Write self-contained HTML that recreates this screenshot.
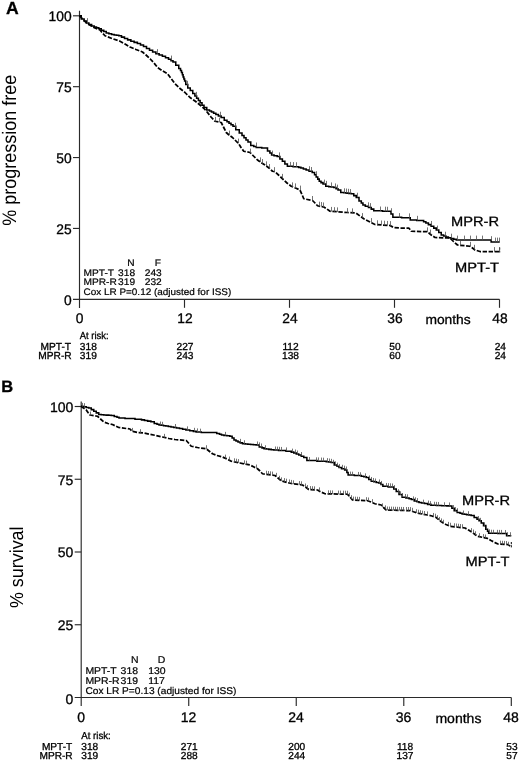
<!DOCTYPE html>
<html lang="en"><head><meta charset="utf-8"><title>Figure</title>
<style>html,body{margin:0;padding:0;background:#fff}body{width:520px;height:761px;overflow:hidden}svg{display:block}</style>
</head><body>
<svg width="520" height="761" viewBox="0 0 520 761" text-rendering="geometricPrecision">
<rect width="520" height="761" fill="#fff"/>
<g stroke="#2a2a2a" stroke-width="1.15" fill="none" shape-rendering="auto">
<path d="M79.50 10.80V307.90"/>
<path d="M73.00 299.30H499.50"/>
<path d="M73.00 228.43H79.50"/>
<path d="M73.00 157.55H79.50"/>
<path d="M73.00 86.68H79.50"/>
<path d="M73.00 15.80H79.50"/>
<path d="M184.50 299.30V307.80"/>
<path d="M289.50 299.30V307.80"/>
<path d="M394.50 299.30V307.80"/>
<path d="M499.50 299.30V307.80"/>
</g>
<g font-family="Liberation Sans, Arial, sans-serif" stroke="#000" stroke-width="0.3" font-size="13.8" fill="#000" text-anchor="end">
<text x="71.60" y="305.40">0</text>
<text x="71.60" y="233.73">25</text>
<text x="71.60" y="162.85">50</text>
<text x="71.60" y="91.98">75</text>
<text x="71.60" y="21.10">100</text>
</g>
<g font-family="Liberation Sans, Arial, sans-serif" stroke="#000" stroke-width="0.3" font-size="13.8" fill="#000" text-anchor="middle">
<text x="79.50" y="322.60">0</text>
<text x="185.00" y="322.60">12</text>
<text x="290.00" y="322.60">24</text>
<text x="395.00" y="322.60">36</text>
<text x="500.00" y="322.60">48</text>
</g>
<g stroke="#2a2a2a" stroke-width="1.15" fill="none" shape-rendering="auto">
<path d="M81.20 401.50V706.10"/>
<path d="M74.70 697.50H511.30"/>
<path d="M74.70 624.75H81.20"/>
<path d="M74.70 552.00H81.20"/>
<path d="M74.70 479.25H81.20"/>
<path d="M74.70 406.50H81.20"/>
<path d="M188.73 697.50V706.00"/>
<path d="M296.25 697.50V706.00"/>
<path d="M403.78 697.50V706.00"/>
<path d="M511.30 697.50V706.00"/>
</g>
<g font-family="Liberation Sans, Arial, sans-serif" stroke="#000" stroke-width="0.3" font-size="14" fill="#000" text-anchor="end">
<text x="73.30" y="703.60">0</text>
<text x="73.30" y="630.05">25</text>
<text x="73.30" y="557.30">50</text>
<text x="73.30" y="484.55">75</text>
<text x="73.30" y="411.80">100</text>
</g>
<g font-family="Liberation Sans, Arial, sans-serif" stroke="#000" stroke-width="0.3" font-size="14" fill="#000" text-anchor="middle">
<text x="81.20" y="721.70">0</text>
<text x="188.43" y="721.70">12</text>
<text x="295.95" y="721.70">24</text>
<text x="403.48" y="721.70">36</text>
<text x="511.00" y="721.70">48</text>
</g>
<path d="M79.50 15.75H81.25V19.00H83.00H84.12V21.00H85.25H86.38V23.00H87.50H88.88V24.50H90.25H91.62V26.00H93.00H94.17V26.92H95.33H96.50V27.83H97.67H98.83V28.75H100.00H101.25V30.17H102.50H103.75V31.58H105.00H106.25V33.00H107.50H108.88V33.75H110.25H111.62V34.50H113.00H114.17V34.92H115.33H116.50V35.33H117.67H118.83V35.75H120.00H121.50V37.12H123.00H124.50V38.50H126.00H127.62V39.88H129.25H130.88V41.25H132.50H134.12V42.38H135.75H137.38V43.50H139.00H140.50V45.00H142.00H143.50V46.50H145.00H146.50V48.40H148.00H149.50V50.30H151.00H152.62V52.05H154.25H155.88V53.80H157.50H159.12V55.05H160.75H162.38V56.30H164.00H165.50V57.80H167.00H168.50V59.30H170.00H171.00V60.65H172.00H173.00V62.00H174.00H175.75V65.30H177.50H178.75V68.50H180.00H180.50V70.50H181.00H181.50V72.50H182.00H182.38V74.75H182.75H183.12V77.00H183.50H183.88V79.00H184.25H184.62V81.00H185.00H185.75V84.50H186.50H187.75V88.00H189.00H190.25V90.50H191.50H192.75V93.50H194.00H194.88V95.90H195.75H196.62V98.30H197.50H198.38V100.55H199.25H200.12V102.80H201.00H202.00V105.15H203.00H204.00V107.50H205.00H206.75V110.00H208.50H209.50V111.00H210.50H211.50V112.00H212.50H213.62V113.25H214.75H215.88V114.50H217.00H218.38V116.00H219.75H221.12V117.50H222.50H224.25V120.20H226.00H227.00V121.75H228.00H229.00V123.30H230.00H231.00V124.75H232.00H233.00V126.20H234.00H235.75V129.70H237.50H239.25V133.00H241.00H242.00V135.40H243.00H244.00V137.80H245.00H246.00V139.90H247.00H248.00V142.00H249.00H250.75V145.50H252.50H253.75V146.50H255.00H256.25V147.50H257.50H261.75V148.00H266.00H267.50V151.00H269.00H269.88V153.00H270.75H271.62V155.00H272.50H274.06V155.75H275.62H277.19V156.50H278.75H279.88V159.00H281.00H282.38V161.25H283.75H284.88V164.00H286.00H287.38V166.25H288.75H293.12V166.75H297.50H298.62V167.38H299.75H300.88V168.00H302.00H303.38V169.00H304.75H306.12V170.00H307.50H309.06V171.25H310.62H312.19V172.50H313.75H314.56V174.75H315.38H316.19V177.00H317.00H317.75V179.12H318.50H319.25V181.25H320.00H321.00V182.62H322.00H323.00V184.00H324.00H325.75V186.25H327.50H328.75V186.67H330.00H331.25V187.08H332.50H333.75V187.50H335.00H336.00V188.75H337.00H338.00V190.00H339.00H340.75V192.50H342.50H343.75V192.81H345.00H346.25V193.12H347.50H348.75V193.44H350.00H351.25V193.75H352.50H353.75V195.62H355.00H356.25V197.50H357.50H359.00V201.00H360.50H361.31V203.00H362.12H362.94V205.00H363.75H365.31V206.25H366.88H368.44V207.50H370.00H371.25V209.12H372.50H373.75V210.75H375.00H382.50V211.25H390.00H391.00V214.00H392.00H392.88V217.30H393.75H401.62V217.80H409.50H410.25V220.00H411.00H416.75V220.40H422.50H423.62V221.70H424.75H425.88V223.00H427.00H428.38V224.62H429.75H431.12V226.25H432.50H433.75V228.12H435.00H436.25V230.00H437.50H438.75V232.50H440.00H441.25V235.00H442.50H443.62V236.00H444.75H445.88V237.00H447.00H448.38V237.75H449.75H451.12V238.50H452.50H453.75V239.25H455.00H456.25V240.00H457.50H490.80H491.15V242.00H491.50H499.70" fill="none" stroke="#000" stroke-width="1.55" stroke-linejoin="miter"/>
<path d="M79.50 15.75L83.00 19.50L87.50 23.75L93.00 27.00L100.00 30.00L102.50 33.00L105.00 35.75L112.00 38.50L120.00 41.25L125.00 44.00L130.00 47.00L136.00 49.50L142.50 52.00L146.00 55.00L150.00 58.75L154.00 63.00L157.50 67.50L162.00 70.50L167.50 73.75L171.00 78.50L175.00 83.75L180.00 88.50L185.00 92.50L190.00 97.50L195.00 101.00L200.00 105.00L204.00 108.50L207.50 112.50L211.00 117.00L215.00 121.25L221.25 122.50L223.50 127.00L226.25 132.50L229.00 135.00L232.50 137.50L235.50 140.50L238.75 143.75L241.00 147.50L243.75 151.25L250.00 152.50L253.50 156.00L257.50 160.00L261.00 162.50L265.00 165.00L269.00 168.00L272.50 171.25L275.00 171.75L279.00 175.50L282.50 178.75L287.00 183.00L291.25 186.25L295.50 188.00L300.00 190.00L302.00 194.50L303.75 198.75L312.50 200.50L315.00 203.00L317.50 205.75L323.75 207.00L327.00 209.00L330.00 211.25L347.50 212.50L356.00 213.00L360.00 216.00L363.75 218.75L370.00 222.00L375.00 224.50L390.00 225.50L393.75 227.50L400.00 228.00L408.75 228.00L410.00 229.50L411.25 231.25L427.50 231.75L429.50 233.50L431.25 235.00L435.00 237.50L450.00 238.00L453.50 241.50L457.50 245.00L470.00 246.25L472.50 248.00L475.00 250.00L480.00 251.50L499.70 251.50" fill="none" stroke="#000" stroke-width="1.75" stroke-dasharray="4.4 1.6" stroke-linejoin="round"/>
<path d="M81.00 406.25H83.00V406.80H85.00H86.25V407.40H87.50H88.75V408.00H90.00H91.25V409.62H92.50H93.75V411.25H95.00H96.25V412.88H97.50H98.75V414.50H100.00H101.25V414.70H102.50H103.75V414.90H105.00H106.25V415.10H107.50H108.75V415.30H110.00H111.25V415.50H112.50H114.25V416.50H116.00H117.00V417.25H118.00H119.00V418.00H120.00H125.00V418.50H130.00H135.00V419.25H140.00H141.50V419.88H143.00H144.50V420.50H146.00H147.62V421.12H149.25H150.88V421.75H152.50H154.25V423.50H156.00H157.00V424.25H158.00H159.00V425.00H160.00H161.17V425.33H162.33H163.50V425.67H164.67H165.83V426.00H167.00H168.33V426.50H169.67H171.00V427.00H172.33H173.67V427.50H175.00H176.50V428.00H178.00H179.50V428.50H181.00H182.62V429.25H184.25H185.88V430.00H187.50H189.75V430.75H192.00H193.38V431.38H194.75H196.12V432.00H197.50H201.25V432.50H205.00H215.00H216.75V433.50H218.50H219.50V434.25H220.50H221.50V435.00H222.50H223.96V435.42H225.42H226.88V435.83H228.33H229.79V436.25H231.25H232.12V438.00H233.00H234.00V440.00H235.00H236.00V441.00H237.00H238.00V442.00H239.00H240.19V442.88H241.38H242.56V443.75H243.75H245.12V444.00H246.50H247.88V444.25H249.25H250.62V444.50H252.00H253.38V444.75H254.75H256.12V445.00H257.50H259.25V447.00H261.00H262.00V447.88H263.00H264.00V448.75H265.00H266.25V449.06H267.50H268.75V449.38H270.00H271.25V449.69H272.50H273.75V450.00H275.00H278.50V450.50H282.00H286.00V451.25H290.00H291.25V452.12H292.50H293.75V453.00H295.00H296.25V454.00H297.50H298.75V455.00H300.00H301.25V456.25H302.50H303.75V457.50H305.00H306.88V460.50H308.75H316.88V461.25H325.00H326.25V461.67H327.50H328.75V462.08H330.00H331.25V462.50H332.50H334.25V465.00H336.00H337.00V466.25H338.00H339.00V467.50H340.00H341.56V468.75H343.12H344.69V470.00H346.25H346.88V472.50H347.50H348.12V475.00H348.75H354.38V475.50H360.00H361.25V476.17H362.50H363.75V476.83H365.00H366.25V477.50H367.50H368.75V479.50H370.00H371.25V481.25H372.50H373.75V481.83H375.00H376.25V482.42H377.50H378.75V483.00H380.00H381.00V484.50H382.00H382.88V486.25H383.75H388.12V487.00H392.50H393.75V489.00H395.00H396.25V491.50H397.50H399.00V494.50H400.50H402.12V497.25H403.75H405.88V498.00H408.00H409.12V498.75H410.25H411.38V499.50H412.50H414.25V501.00H416.00H417.00V501.75H418.00H419.00V502.50H420.00H421.50V503.00H423.00H424.50V503.50H426.00H427.62V504.35H429.25H430.88V505.20H432.50H433.81V505.31H435.11H436.42V505.43H437.73H439.04V505.54H440.34H441.65V505.66H442.96H444.26V505.77H445.57H446.88V505.89H448.19H449.49V506.00H450.80H451.90V508.30H453.00H454.20V510.60H455.40H457.20V512.50H459.00H460.02V513.20H461.05H462.08V513.90H463.10H464.25V514.27H465.40H466.55V514.65H467.70H468.85V515.02H470.00H471.15V515.40H472.30H474.15V517.50H476.00H477.00V519.15H478.00H479.00V520.80H480.00H481.25V523.00H482.50H483.55V525.60H484.60H485.80V529.30H487.00H487.55V531.25H488.10H488.65V533.20H489.20H497.70V533.50H506.20H506.60V535.70H507.00H511.30" fill="none" stroke="#000" stroke-width="1.55" stroke-linejoin="miter"/>
<path d="M81.00 406.25L83.50 408.00L86.25 410.00L88.00 412.50L90.00 415.00L97.50 416.25L100.50 419.00L103.75 422.00L108.00 423.50L112.50 424.50L115.50 426.00L118.75 427.50L130.00 429.00L132.00 431.30L137.50 432.50L144.00 433.00L150.00 434.25L156.00 435.50L162.50 437.00L169.00 438.50L175.00 439.50L186.25 440.50L188.50 443.00L191.25 446.25L197.50 447.50L206.25 448.75L209.00 451.00L212.50 453.75L217.00 455.50L222.50 457.00L227.00 459.00L231.25 461.25L240.00 463.00L250.00 465.00L254.00 467.00L257.50 468.75L260.00 471.00L262.50 473.75L275.00 475.50L278.00 478.00L281.25 480.75L287.00 482.50L292.50 483.75L302.50 485.00L305.50 487.00L308.75 489.50L317.50 490.00L321.00 492.00L325.00 493.75L347.50 494.25L350.00 497.00L352.50 500.00L367.50 500.75L371.00 502.00L375.00 503.75L381.25 505.00L383.50 507.50L386.25 510.00L405.00 510.50L410.00 510.50L413.50 511.75L417.50 513.00L422.00 514.00L427.50 515.00L432.00 516.00L436.25 517.50L439.00 520.00L442.50 522.50L446.00 524.50L450.00 526.25L465.00 528.00L468.50 530.00L472.50 532.50L475.00 534.50L477.50 536.25L487.50 538.40L491.00 540.50L495.00 542.60L498.00 544.00L508.00 544.60L511.30 547.00" fill="none" stroke="#000" stroke-width="1.75" stroke-dasharray="4.4 1.6" stroke-linejoin="round"/>
<path d="M499.7 247.5V252.5M511.3 542V548" stroke="#000" stroke-width="1" stroke-dasharray="2.2 1"/>
<path d="M87.50 22.86v-4.70M157.50 53.83v-4.70M171.50 60.27v-4.70M187.50 85.50v-4.70M196.50 96.54v-4.70M220.50 116.44v-4.70M235.50 127.50v-4.70M256.50 147.20v-4.70M272.50 155.30v-4.70M279.50 157.08v-4.70M290.50 166.62v-4.70M293.50 166.79v-4.70M296.50 166.96v-4.70M309.50 170.90v-4.70M311.50 171.70v-4.70M316.50 175.92v-4.70M324.50 184.30v-4.70M326.50 185.59v-4.70M331.50 187.13v-4.70M335.50 188.11v-4.70M337.50 189.36v-4.70M344.50 192.99v-4.70M346.50 193.24v-4.70M348.50 193.49v-4.70M350.50 193.74v-4.70M357.50 197.43v-4.70M368.50 207.00v-4.70M370.50 207.80v-4.70M380.50 211.22v-4.70M385.50 211.38v-4.70M387.50 211.47v-4.70M391.50 212.93v-4.70M399.50 217.78v-4.70M409.50 218.08v-4.70M417.50 220.53v-4.70M431.50 225.66v-4.70M437.50 230.30v-4.70M445.50 236.41v-4.70M451.50 238.39v-4.70M457.50 240.30v-4.70M464.50 240.30v-4.70M470.50 240.30v-4.70M476.50 240.30v-4.70M482.50 240.30v-4.70M491.50 240.87v-4.70M495.50 242.30v-4.70M497.50 242.30v-4.70M499.50 242.30v-4.70" fill="none" stroke="#505050" stroke-width="0.8"/>
<path d="M215.50 121.55v-4.70M219.50 122.35v-4.70M229.50 135.30v-4.70M238.50 143.30v-4.70M250.50 153.30v-4.70M260.50 162.09v-4.70M262.50 163.74v-4.70M266.50 166.05v-4.70M269.50 168.76v-4.70M274.50 171.85v-4.70M282.50 178.59v-4.70M292.50 187.06v-4.70M295.50 188.09v-4.70M300.50 190.30v-4.70M312.50 200.70v-4.70M319.50 206.35v-4.70M321.50 206.75v-4.70M323.50 207.15v-4.70M331.50 211.62v-4.70M334.50 211.87v-4.70M337.50 212.09v-4.70M347.50 212.80v-4.70M352.50 213.09v-4.70M362.50 217.77v-4.70M371.50 222.80v-4.70M377.50 224.97v-4.70M381.50 225.20v-4.70M384.50 225.40v-4.70M387.50 225.63v-4.70M390.50 225.80v-4.70M427.50 232.05v-4.70M430.50 234.23v-4.70M460.50 245.55v-4.70M470.50 246.55v-4.70M474.50 249.50v-4.70M494.50 251.80v-4.70M499.50 251.80v-4.70" fill="none" stroke="#505050" stroke-width="0.8"/>
<path d="M82.50 406.69v-3.80M84.50 406.96v-3.80M160.50 425.30v-3.80M162.50 425.59v-3.80M175.50 427.80v-3.80M187.50 430.18v-3.80M194.50 431.62v-3.80M197.50 432.19v-3.80M200.50 432.47v-3.80M225.50 435.66v-3.80M240.50 442.67v-3.80M244.50 444.07v-3.80M257.50 445.25v-3.80M259.50 446.16v-3.80M261.50 447.30v-3.80M265.50 449.05v-3.80M275.50 450.30v-3.80M277.50 450.44v-3.80M279.50 450.59v-3.80M281.50 450.73v-3.80M286.50 451.18v-3.80M292.50 452.43v-3.80M295.50 453.30v-3.80M297.50 454.30v-3.80M301.50 455.80v-3.80M309.50 460.83v-3.80M316.50 461.13v-3.80M318.50 461.23v-3.80M321.50 461.37v-3.80M323.50 461.46v-3.80M327.50 461.93v-3.80M329.50 462.28v-3.80M331.50 462.63v-3.80M333.50 463.59v-3.80M335.50 465.09v-3.80M337.50 466.43v-3.80M339.50 467.74v-3.80M342.50 468.60v-3.80M344.50 469.44v-3.80M346.50 470.28v-3.80M350.50 475.37v-3.80M352.50 475.47v-3.80M358.50 475.75v-3.80M360.50 476.04v-3.80M365.50 477.16v-3.80M369.50 479.24v-3.80M371.50 480.78v-3.80M373.50 481.78v-3.80M375.50 482.27v-3.80M379.50 483.25v-3.80M381.50 484.73v-3.80M386.50 486.75v-3.80M388.50 486.93v-3.80M390.50 487.11v-3.80M392.50 487.29v-3.80M394.50 488.90v-3.80M398.50 493.00v-3.80M400.50 495.05v-3.80M402.50 496.83v-3.80M405.50 497.77v-3.80M407.50 498.14v-3.80M413.50 500.19v-3.80M415.50 501.09v-3.80M417.50 501.90v-3.80M423.50 503.45v-3.80M428.50 504.35v-3.80M430.50 504.90v-3.80M434.50 505.58v-3.80M436.50 505.67v-3.80M438.50 505.77v-3.80M444.50 506.04v-3.80M449.50 506.23v-3.80M453.50 508.89v-3.80M455.50 510.90v-3.80M457.50 512.01v-3.80M463.50 514.31v-3.80M468.50 515.00v-3.80M478.50 519.86v-3.80M480.50 521.63v-3.80M484.50 526.21v-3.80M486.50 529.45v-3.80M489.50 533.15v-3.80M491.50 533.53v-3.80M493.50 533.57v-3.80M497.50 533.64v-3.80M499.50 533.68v-3.80M501.50 533.72v-3.80M505.50 533.79v-3.80M507.50 536.00v-3.80M510.50 536.00v-3.80" fill="none" stroke="#505050" stroke-width="0.8"/>
<path d="M90.50 415.30v-3.80M132.50 431.71v-3.80M140.50 432.99v-3.80M164.50 437.65v-3.80M206.50 449.01v-3.80M225.50 458.41v-3.80M229.50 460.36v-3.80M234.50 462.10v-3.80M236.50 462.50v-3.80M238.50 462.90v-3.80M244.50 464.10v-3.80M246.50 464.50v-3.80M256.50 468.30v-3.80M266.50 474.54v-3.80M268.50 474.82v-3.80M270.50 475.10v-3.80M272.50 475.38v-3.80M276.50 476.63v-3.80M279.50 479.57v-3.80M281.50 481.13v-3.80M284.50 481.89v-3.80M286.50 482.50v-3.80M289.50 483.25v-3.80M291.50 483.71v-3.80M293.50 484.11v-3.80M299.50 484.86v-3.80M301.50 485.11v-3.80M305.50 487.30v-3.80M307.50 488.84v-3.80M310.50 489.87v-3.80M312.50 490.01v-3.80M314.50 490.13v-3.80M319.50 491.16v-3.80M328.50 494.12v-3.80M330.50 494.17v-3.80M332.50 494.22v-3.80M338.50 494.36v-3.80M340.50 494.40v-3.80M343.50 494.45v-3.80M345.50 494.50v-3.80M347.50 494.54v-3.80M349.50 496.53v-3.80M351.50 498.98v-3.80M353.50 500.35v-3.80M355.50 500.46v-3.80M357.50 500.56v-3.80M359.50 500.67v-3.80M366.50 500.98v-3.80M368.50 501.30v-3.80M372.50 502.91v-3.80M382.50 507.13v-3.80M385.50 509.16v-3.80M387.50 510.32v-3.80M389.50 510.38v-3.80M391.50 510.43v-3.80M393.50 510.49v-3.80M395.50 510.55v-3.80M397.50 510.60v-3.80M399.50 510.66v-3.80M401.50 510.71v-3.80M403.50 510.77v-3.80M406.50 510.80v-3.80M408.50 510.80v-3.80M410.50 510.87v-3.80M412.50 511.62v-3.80M416.50 512.99v-3.80M418.50 513.54v-3.80M420.50 514.01v-3.80M422.50 514.45v-3.80M424.50 514.83v-3.80M427.50 515.21v-3.80M433.50 516.76v-3.80M435.50 517.50v-3.80M437.50 518.94v-3.80M439.50 520.73v-3.80M441.50 522.23v-3.80M443.50 523.54v-3.80M448.50 525.68v-3.80M450.50 526.56v-3.80M454.50 527.05v-3.80M456.50 527.30v-3.80M458.50 527.54v-3.80M460.50 527.79v-3.80M462.50 528.03v-3.80M471.50 531.93v-3.80M473.50 533.36v-3.80M475.50 535.01v-3.80M479.50 536.98v-3.80M483.50 537.88v-3.80M485.50 538.33v-3.80M500.50 544.45v-3.80M502.50 544.58v-3.80M504.50 544.70v-3.80M506.50 544.83v-3.80M508.50 545.55v-3.80" fill="none" stroke="#505050" stroke-width="0.8"/>
<g font-family="Liberation Sans, Arial, sans-serif" stroke="#000" stroke-width="0.3" font-weight="bold" font-size="16.5" fill="#000"><text x="5.9" y="14" font-size="17.6">A</text><text x="1.2" y="392">B</text></g>
<text font-family="Liberation Sans, Arial, sans-serif" font-size="19.5" fill="#000" transform="translate(16 225.8) rotate(-90)" textLength="151" lengthAdjust="spacingAndGlyphs">% progression free</text>
<text font-family="Liberation Sans, Arial, sans-serif" font-size="18.8" fill="#000" transform="translate(22.8 608) rotate(-90)" textLength="81.5" lengthAdjust="spacingAndGlyphs">% survival</text>
<g font-family="Liberation Sans, Arial, sans-serif" stroke="#000" stroke-width="0.3" font-size="13.6" fill="#000">
<text x="451" y="226.2" textLength="48" lengthAdjust="spacingAndGlyphs">MPR-R</text>
<text x="455" y="271.5" textLength="44" lengthAdjust="spacingAndGlyphs">MPT-T</text>
<text x="462" y="505.1" textLength="48" lengthAdjust="spacingAndGlyphs">MPR-R</text>
<text x="465.5" y="565.5" textLength="44" lengthAdjust="spacingAndGlyphs">MPT-T</text>
</g>
<text font-family="Liberation Sans, Arial, sans-serif" stroke="#000" stroke-width="0.3" font-size="13.3" x="425.4" y="324.3" textLength="45.3" lengthAdjust="spacingAndGlyphs" fill="#000">months</text>
<text font-family="Liberation Sans, Arial, sans-serif" stroke="#000" stroke-width="0.3" font-size="13.6" x="435.4" y="723" textLength="46" lengthAdjust="spacingAndGlyphs" fill="#000">months</text>
<g font-family="Liberation Sans, Arial, sans-serif" font-size="9.5" fill="#000" stroke="#000" stroke-width="0.2">
<text transform="translate(127.30 265.60) scale(1.07 1)">N</text><text transform="translate(154.80 265.60) scale(1.07 1)">F</text>
<text transform="translate(83.50 275.80) scale(1.07 1)">MPT-T</text><text transform="translate(118.10 275.80) scale(1.07 1)">318</text><text transform="translate(144.80 275.80) scale(1.07 1)">243</text>
<text transform="translate(83.50 285.20) scale(1.07 1)">MPR-R</text><text transform="translate(118.10 285.20) scale(1.07 1)">319</text><text transform="translate(144.80 285.20) scale(1.07 1)">232</text>
<text transform="translate(83.50 294.70) scale(1.07 1)" textLength="138.13" lengthAdjust="spacingAndGlyphs">Cox LR P=0.12 (adjusted for ISS)</text>
</g>
<g font-family="Liberation Sans, Arial, sans-serif" font-size="10.2" fill="#000" stroke="#000" stroke-width="0.3">
<text x="79.80" y="339.30" textLength="28.9" lengthAdjust="spacingAndGlyphs">At risk:</text>
<text x="71.00" y="349.80" text-anchor="end">MPT-T</text><text x="71.70" y="358.90" text-anchor="end">MPR-R</text>
<text x="79.80" y="349.80">318</text><text x="79.80" y="358.90">319</text>
<text x="185.00" y="349.80" text-anchor="middle">227</text><text x="185.00" y="358.90" text-anchor="middle">243</text>
<text x="290.50" y="349.80" text-anchor="middle">112</text><text x="290.50" y="358.90" text-anchor="middle">138</text>
<text x="395.00" y="349.80" text-anchor="middle">50</text><text x="395.00" y="358.90" text-anchor="middle">60</text>
<text x="500.30" y="349.80" text-anchor="middle">24</text><text x="500.30" y="358.90" text-anchor="middle">24</text>
</g>
<g font-family="Liberation Sans, Arial, sans-serif" font-size="9.75" fill="#000" stroke="#000" stroke-width="0.2">
<text transform="translate(131.00 662.70) scale(1.07 1)">N</text><text transform="translate(157.80 662.70) scale(1.07 1)">D</text>
<text transform="translate(85.40 673.80) scale(1.07 1)">MPT-T</text><text transform="translate(120.60 673.80) scale(1.07 1)">318</text><text transform="translate(148.20 673.80) scale(1.07 1)">130</text>
<text transform="translate(85.40 683.90) scale(1.07 1)">MPR-R</text><text transform="translate(120.60 683.90) scale(1.07 1)">319</text><text transform="translate(148.20 683.90) scale(1.07 1)">117</text>
<text transform="translate(85.40 693.80) scale(1.07 1)" textLength="141.12" lengthAdjust="spacingAndGlyphs">Cox LR P=0.13 (adjusted for ISS)</text>
</g>
<g font-family="Liberation Sans, Arial, sans-serif" font-size="10.15" fill="#000" stroke="#000" stroke-width="0.3">
<text x="81.30" y="738.55" textLength="29.5" lengthAdjust="spacingAndGlyphs">At risk:</text>
<text x="72.30" y="749.60" text-anchor="end">MPT-T</text><text x="72.70" y="758.60" text-anchor="end">MPR-R</text>
<text x="81.30" y="749.60">318</text><text x="81.30" y="758.60">319</text>
<text x="189.30" y="749.60" text-anchor="middle">271</text><text x="189.30" y="758.60" text-anchor="middle">288</text>
<text x="296.80" y="749.60" text-anchor="middle">200</text><text x="296.80" y="758.60" text-anchor="middle">244</text>
<text x="405.00" y="749.60" text-anchor="middle">118</text><text x="405.00" y="758.60" text-anchor="middle">137</text>
<text x="512.00" y="749.60" text-anchor="middle">53</text><text x="512.00" y="758.60" text-anchor="middle">57</text>
</g>
</svg>
</body></html>
